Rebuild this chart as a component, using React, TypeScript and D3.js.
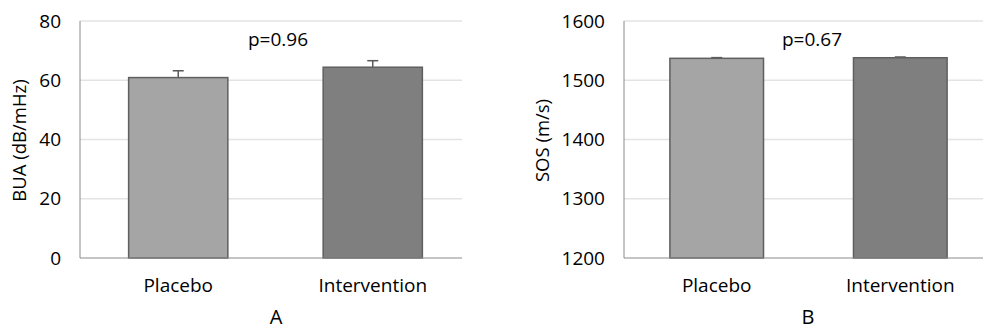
import * as d3 from "d3";
import React from "react";

const groups = ["Placebo", "Intervention"];
const fills = ["#a5a5a5", "#7f7f7f"];

// panel A: BUA
const buaMean = [60.9, 64.4];
const buaErr = [2.3, 2.2];
const buaTicks = [0, 20, 40, 60, 80];

// panel B: SOS
const sosMean = [1537, 1538];
const sosErr = [1.2, 1.2];
const sosTicks = [1200, 1300, 1400, 1500, 1600];

const FONT = "'Open Sans', sans-serif";

type PanelProps = {
  x0: number; // y axis position
  bandRight: number;
  gridRight: number;
  domain: [number, number];
  ticks: number[];
  means: number[];
  errs: number[];
  yTitle: string;
  yTitleX: number;
  pText: string;
  pX: number;
  letter: string;
  letterX: number;
};

function Panel(p: PanelProps) {
  const top = 21;
  const bottom = 258;
  const y = d3.scaleLinear().domain(p.domain).range([bottom, top]);
  const x = d3.scaleBand<string>().domain(groups).range([p.x0, p.bandRight]).paddingInner(0.49).paddingOuter(0.25);
  return (
    <g fontFamily={FONT} fill="#000">
      {p.ticks.map((t) => (
        <g key={t}>
          {t !== p.domain[0] && (
            <line x1={p.x0} x2={p.gridRight} y1={y(t)} y2={y(t)} stroke="#e3e3e3" strokeWidth={1.5} />
          )}
          <text x={p.x0 - 19} y={y(t)} dy="0.35em" textAnchor="end" fontSize={19}>
            {t}
          </text>
        </g>
      ))}
      <line x1={p.x0} x2={p.x0} y1={top} y2={bottom} stroke="#8a8a8a" strokeWidth={1} />
      {groups.map((g, i) => {
        const bx = x(g)!;
        const cx = bx + x.bandwidth() / 2;
        return (
          <g key={g}>
            <line x1={cx} x2={cx} y1={y(p.means[i])} y2={y(p.means[i] + p.errs[i])} stroke="#595959" strokeWidth={1.5} />
            <line x1={cx - 5.5} x2={cx + 5.5} y1={y(p.means[i] + p.errs[i])} y2={y(p.means[i] + p.errs[i])} stroke="#595959" strokeWidth={1.5} />
            <rect x={bx} y={y(p.means[i])} width={x.bandwidth()} height={bottom - y(p.means[i])} fill={fills[i]} stroke="#5f5f5f" strokeWidth={1.5} />
            <text x={cx} y={292} textAnchor="middle" fontSize={19}>
              {g}
            </text>
          </g>
        );
      })}
      <line x1={p.x0} x2={p.gridRight} y1={bottom} y2={bottom} stroke="#8a8a8a" strokeWidth={1} />
      <text transform={`translate(${p.yTitleX},${(top + bottom) / 2 + 1}) rotate(-90)`} textAnchor="middle" dy="0.35em" fontSize={18.5}>
        {p.yTitle}
      </text>
      <text x={p.pX} y={46} textAnchor="middle" fontSize={19}>
        {p.pText}
      </text>
      <text x={p.letterX} y={324} textAnchor="middle" fontSize={20}>
        {p.letter}
      </text>
    </g>
  );
}

export default function App() {
  return (
    <svg width={983} height={330} style={{ position: "absolute", left: 0, top: 0, background: "#fff" }}>
      <Panel
        x0={80}
        bandRight={471}
        gridRight={462}
        domain={[0, 80]}
        ticks={buaTicks}
        means={buaMean}
        errs={buaErr}
        yTitle="BUA (dB/mHz)"
        yTitleX={20}
        pText="p=0.96"
        pX={278}
        letter="A"
        letterX={276}
      />
      <Panel
        x0={624}
        bandRight={993}
        gridRight={983}
        domain={[1200, 1600]}
        ticks={sosTicks}
        means={sosMean}
        errs={sosErr}
        yTitle="SOS (m/s)"
        yTitleX={543}
        pText="p=0.67"
        pX={812}
        letter="B"
        letterX={808}
      />
    </svg>
  );
}
